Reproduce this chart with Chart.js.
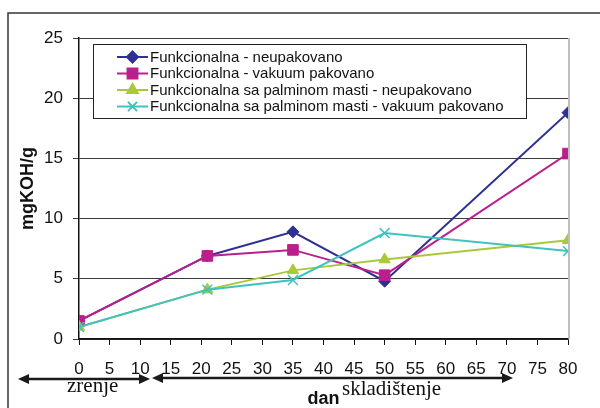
<!DOCTYPE html>
<html>
<head>
<meta charset="utf-8">
<script src="https://cdn.jsdelivr.net/npm/chart.js@4"></script>
<style>
  html,body{margin:0;padding:0;background:#fff;}
  canvas{display:block;}
</style>
</head>
<body>
<canvas id="c" width="600" height="408"></canvas>
<script>
/* kiselinski broj po danima */
const days=[0,21,35,50,80];
const seriesNames=[
  'Funkcionalna - neupakovano',
  'Funkcionalna - vakuum pakovano',
  'Funkcionalna sa palminom masti - neupakovano',
  'Funkcionalna sa palminom masti - vakuum pakovano'
];
const neupakovano=[1.5,6.9,8.9,4.8,18.8];
const vakuum=[1.5,6.9,7.4,5.3,15.4];
const palmNeupakovano=[1.0,4.1,5.7,6.6,8.2];
const palmVakuum=[1.0,4.1,4.9,8.8,7.3];
const yTicks=[0,5,10,15,20,25];
const xTicks=[0,5,10,15,20,25,30,35,40,45,50,55,60,65,70,75,80];

const FONT='"Liberation Sans", Arial, sans-serif';
const SERIF='"Liberation Serif", "Times New Roman", serif';

const styles=[
  {color:'#2e3192',point:'rectRot',r:6},
  {color:'#bb1f8c',point:'rect',r:7.5},
  {color:'#a9c93a',point:'triangle',r:6.5},
  {color:'#3fc2c0',point:'crossRot',r:7}
];
const values=[neupakovano,vakuum,palmNeupakovano,palmVakuum];

const datasets=values.map((v,i)=>({
  label:seriesNames[i],
  data:days.map((d,j)=>({x:d,y:v[j]})),
  borderColor:styles[i].color,
  backgroundColor:styles[i].color,
  borderWidth:2,
  pointStyle:styles[i].point,
  pointRadius:styles[i].r,
  pointBorderWidth:i===3?1.5:1,
  pointHoverRadius:styles[i].r,
  tension:0,
  order:3-i
}));

/* okvir, legenda, strelice */
const extras={
  id:'extras',
  afterDraw(chart){
    const ctx=chart.ctx, a=chart.chartArea;
    ctx.save();
    // outer frame
    ctx.strokeStyle='#333';
    ctx.lineWidth=1.5;
    ctx.beginPath();
    ctx.moveTo(8,408);ctx.lineTo(8,13);ctx.lineTo(600,13);
    ctx.stroke();
    // right plot border
    ctx.strokeStyle='#a8a8a8';
    ctx.lineWidth=1.5;
    ctx.beginPath();
    ctx.moveTo(a.right+1,a.top);ctx.lineTo(a.right+1,a.bottom);
    ctx.stroke();

    // legend
    const lx=93,ly=44,lw=433,lh=74;
    ctx.fillStyle='#fff';
    ctx.fillRect(lx,ly,lw,lh);
    ctx.strokeStyle='#222';
    ctx.lineWidth=1;
    ctx.strokeRect(lx+0.5,ly+0.5,lw,lh);
    chart.data.datasets.forEach((ds,i)=>{
      const y=57+i*16.5;
      ctx.strokeStyle=ds.borderColor;
      ctx.lineWidth=2;
      ctx.beginPath();ctx.moveTo(117,y);ctx.lineTo(148,y);ctx.stroke();
      ctx.fillStyle=ds.backgroundColor;
      Chart.helpers.drawPoint(ctx,{pointStyle:ds.pointStyle,radius:ds.pointRadius-0.5,borderWidth:ds.pointBorderWidth,rotation:0},132.5,y);
      ctx.fillStyle='#111';
      ctx.font='15px '+FONT;
      ctx.textBaseline='middle';
      ctx.textAlign='left';
      ctx.fillText(ds.label,150,y+0.5);
    });

    // arrows
    function arrow(x1,x2,y){
      const hl=11,hw=5;
      ctx.strokeStyle='#1a1a1a';
      ctx.fillStyle='#1a1a1a';
      ctx.lineWidth=2.5;
      ctx.beginPath();ctx.moveTo(x1+hl-1,y);ctx.lineTo(x2-hl+1,y);ctx.stroke();
      ctx.beginPath();ctx.moveTo(x1,y);ctx.lineTo(x1+hl,y-hw);ctx.lineTo(x1+hl,y+hw);ctx.closePath();ctx.fill();
      ctx.beginPath();ctx.moveTo(x2,y);ctx.lineTo(x2-hl,y-hw);ctx.lineTo(x2-hl,y+hw);ctx.closePath();ctx.fill();
    }
    arrow(18,150,379);
    arrow(152,513,378);
    ctx.fillStyle='#111';
    ctx.font='21px '+SERIF;
    ctx.textBaseline='alphabetic';
    ctx.textAlign='left';
    ctx.fillText('zrenje',67,392);
    ctx.fillText('skladištenje',342,395);
    ctx.restore();
  }
};

new Chart(document.getElementById('c'),{
  type:'line',
  data:{datasets},
  options:{
    responsive:false,
    animation:false,
    devicePixelRatio:1,
    layout:{padding:{top:38,right:32,left:0,bottom:0}},
    plugins:{legend:{display:false},tooltip:{enabled:false}},
    scales:{
      x:{
        type:'linear',
        min:0,max:80,
        afterFit(s){s.height=69;},
        afterBuildTicks(s){s.ticks=xTicks.map(v=>({value:v}));},
        ticks:{autoSkip:false,maxRotation:0,padding:14,color:'#111',font:{family:FONT,size:17}},
        grid:{drawOnChartArea:false,drawTicks:true,tickLength:6,color:'#111',lineWidth:1},
        border:{color:'#111',width:1.5},
        title:{display:true,text:'dan',color:'#111',font:{family:FONT,size:18,weight:'bold',lineHeight:1},padding:{top:0,bottom:0}}
      },
      y:{
        min:0,max:25,
        afterFit(s){s.width=79;},
        afterBuildTicks(s){s.ticks=yTicks.map(v=>({value:v}));},
        ticks:{padding:10,color:'#111',font:{family:FONT,size:17}},
        grid:{color:'#3a3a3a',lineWidth:1,tickLength:6},
        border:{color:'#111',width:1.5},
        title:{display:true,text:'mgKOH/g',color:'#111',font:{family:FONT,size:18,weight:'bold',lineHeight:1},padding:{top:19,bottom:0}}
      }
    }
  },
  plugins:[extras]
});
</script>
</body>
</html>
